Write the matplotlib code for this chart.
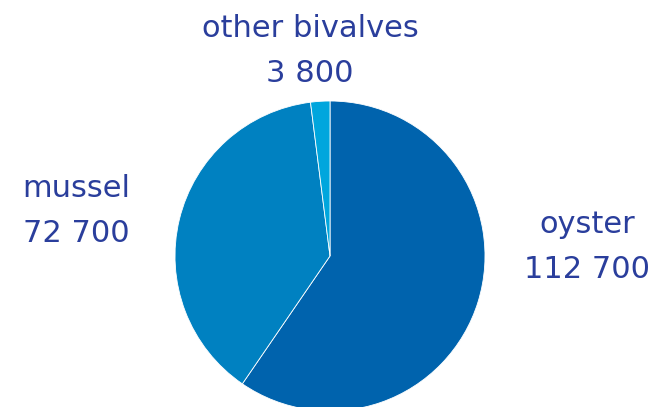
import matplotlib.pyplot as plt

labels = ['oyster', 'mussel', 'other bivalves']
values = [112700, 72700, 3800]
colors = ['#0063AD', '#0081C1', '#00A6DD']
text_color = '#2A3E9C'

# label anchors in pixels (x centre, baseline of first line), y measured from top
label_pos = {'oyster': (587, 233), 'mussel': (76, 197), 'other bivalves': (310, 37)}

fig = plt.figure(figsize=(6.57, 4.07), dpi=100)
ax = fig.add_axes([0, 0, 1, 1])

ax.pie(values, colors=colors, startangle=90, counterclock=False,
       center=(330, 407 - 256), radius=155,
       wedgeprops=dict(edgecolor='white', linewidth=0.6))

# pie() resets the limits, so set them afterwards
ax.set_xlim(0, 657)
ax.set_ylim(0, 407)
ax.set_aspect('equal')
ax.axis('off')

for lab, val in zip(labels, values):
    x, y = label_pos[lab]
    ax.text(x, 407 - y, lab, ha='center', va='baseline', fontsize=22,
            color=text_color, family='DejaVu Sans')
    ax.text(x, 407 - y - 45, f'{val:,}'.replace(',', ' '), ha='center',
            va='baseline', fontsize=22, color=text_color, family='DejaVu Sans')

fig.savefig('out.png', dpi=100)
